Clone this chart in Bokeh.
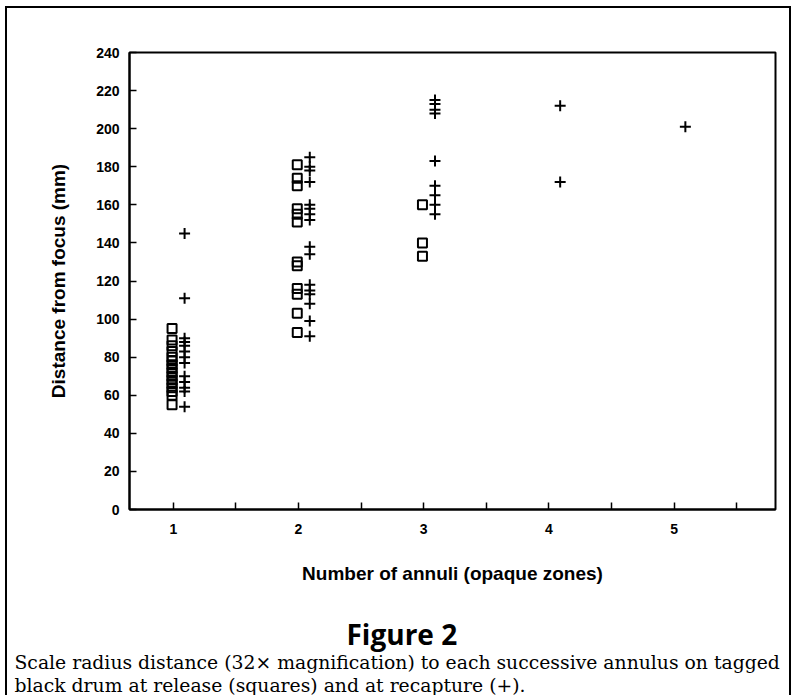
from bokeh.plotting import figure
from bokeh.models import ColumnDataSource, FixedTicker, CustomJSTickFormatter, Title, Range1d
from bokeh.transform import dodge
from bokeh.embed import file_html
from bokeh.resources import INLINE

# ---- data ----
release_annuli = [1]*16 + [2]*12 + [3]*3
release_dist = [95, 89, 86, 83, 80, 78, 76, 74, 72, 70, 68, 66, 64, 62, 60, 55,
                181, 174, 170, 158, 155, 151, 130, 128, 116, 113, 103, 93,
                160, 140, 133]

recap_annuli = [1]*13 + [2]*16 + [3]*9 + [4]*2 + [5]*1
recap_dist = [145, 111, 90, 88, 86, 83, 80, 77, 70, 67, 64, 62, 54,
              185, 180, 178, 172, 160, 158, 155, 152, 138, 134, 118, 115, 113, 108, 99, 91,
              215, 213, 210, 208, 183, 170, 165, 160, 155,
              212, 172,
              201]

x_ticks = [1, 1.5, 2, 2.5, 3, 3.5, 4, 4.5, 5, 5.5]
y_ticks = [0, 20, 40, 60, 80, 100, 120, 140, 160, 180, 200, 220, 240]

W, H = 786, 689
p = figure(width=W, height=H, output_backend="svg", toolbar_location=None,
           x_range=Range1d(0.65, 5.81), y_range=Range1d(0, 240),
           min_border_left=122, min_border_right=18, min_border_top=44,
           min_border_bottom=188)
p.styles = {"margin-left": "5px", "margin-top": "6px",
            "border-top": "2px solid black", "border-left": "2px solid black",
            "border-right": "2px solid black"}

p.grid.visible = False
p.outline_line_color = "black"
p.outline_line_width = 2
p.background_fill_color = "white"
p.border_fill_color = "white"

rel = ColumnDataSource(dict(annuli=release_annuli, dist=release_dist))
rec = ColumnDataSource(dict(annuli=recap_annuli, dist=recap_dist))

p.scatter(x=dodge("annuli", -0.01, range=p.x_range), y="dist", source=rel,
          marker="square", size=9, fill_color=None, line_color="black", line_width=2)
p.scatter(x=dodge("annuli", 0.09, range=p.x_range), y="dist", source=rec,
          marker="cross", size=11, line_color="black", line_width=2)

for ax in (p.xaxis[0], p.yaxis[0]):
    ax.axis_line_width = 2
    ax.axis_line_color = "black"
    ax.major_tick_in = 7
    ax.major_tick_out = 0
    ax.major_tick_line_width = 1.5
    ax.minor_tick_line_color = None
    ax.major_label_text_font = "Liberation Sans"
    ax.major_label_text_font_style = "bold"
    ax.major_label_text_font_size = "14px"
    ax.major_label_text_color = "black"
    ax.axis_label_text_font = "Liberation Sans"
    ax.axis_label_text_font_style = "bold"
    ax.axis_label_text_font_size = "19px"
    ax.axis_label_text_color = "black"

p.xaxis.ticker = FixedTicker(ticks=x_ticks)
p.xaxis.formatter = CustomJSTickFormatter(code="return (Math.abs(tick % 1) < 1e-9) ? tick.toFixed(0) : '';")
p.xaxis.major_label_standoff = 14
p.xaxis.axis_label = "Number of annuli (opaque zones)"
p.xaxis.axis_label_standoff = 26

p.yaxis.ticker = FixedTicker(ticks=y_ticks)
p.yaxis.major_label_standoff = 10
p.yaxis.axis_label = "Distance from focus (mm)"
p.yaxis.axis_label_standoff = 24

spacer = Title(text=" ", text_font_size="2px", standoff=25)
fig_title = Title(text="Figure 2", align="left", offset=217, text_font="Open Sans",
                  text_font_style="bold", text_font_size="28px", text_color="black",
                  standoff=-6)
cap1 = Title(text="Scale radius distance (32\u00d7 magnification) to each successive annulus on tagged",
             align="left", offset=-115, text_font="DejaVu Serif", text_font_style="normal",
             text_font_size="18.8px", text_color="black", standoff=0)
cap2 = Title(text="black drum at release (squares) and at recapture (+).",
             align="left", offset=-115, text_font="DejaVu Serif", text_font_style="normal",
             text_font_size="18.8px", text_color="black", standoff=0)
p.add_layout(spacer, "below")
p.add_layout(fig_title, "below")
p.add_layout(cap1, "below")
p.add_layout(cap2, "below")

open("out.html", "w").write(file_html(p, INLINE))
